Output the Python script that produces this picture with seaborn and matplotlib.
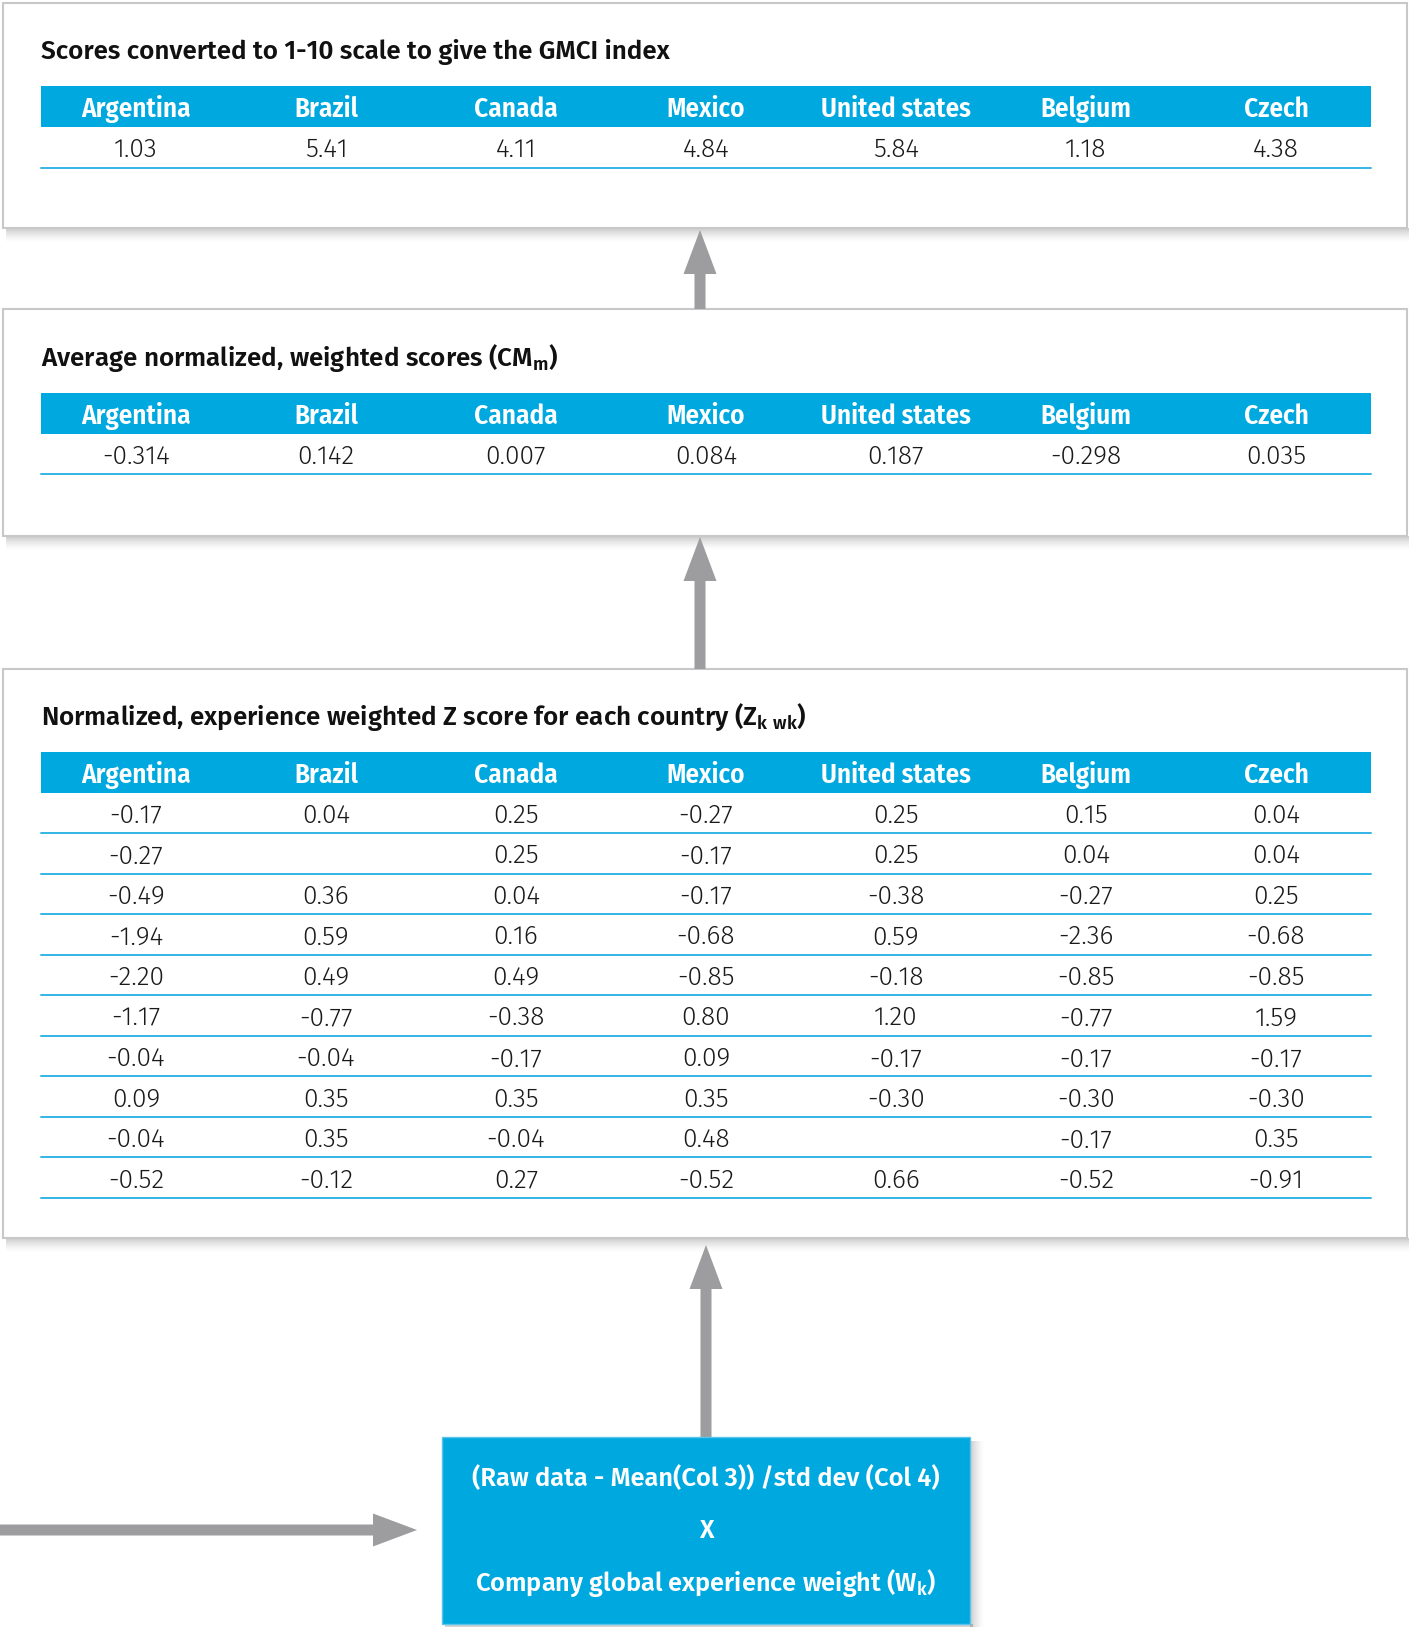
import numpy as np
import matplotlib
matplotlib.use("Agg")
import matplotlib.pyplot as plt
from matplotlib.colors import ListedColormap
from matplotlib.patches import Rectangle, FancyArrow
import seaborn as sns

sns.set_style("white")
COND_FONT = ["Fira Sans Condensed", "DejaVu Sans"]
TEXT_FONT = ["Fira Sans", "DejaVu Sans"]
plt.rcParams['font.family'] = TEXT_FONT

countries = ["Argentina", "Brazil", "Canada", "Mexico", "United states", "Belgium", "Czech"]

gmci_index = [1.03, 5.41, 4.11, 4.84, 5.84, 1.18, 4.38]
avg_scores = [-0.314, 0.142, 0.007, 0.084, 0.187, -0.298, 0.035]

# z scores, one list per country (nan = empty cell)
z_argentina = [-0.17, -0.27, -0.49, -1.94, -2.20, -1.17, -0.04, 0.09, -0.04, -0.52]
z_brazil = [0.04, np.nan, 0.36, 0.59, 0.49, -0.77, -0.04, 0.35, 0.35, -0.12]
z_canada = [0.25, 0.25, 0.04, 0.16, 0.49, -0.38, -0.17, 0.35, -0.04, 0.27]
z_mexico = [-0.27, -0.17, -0.17, -0.68, -0.85, 0.80, 0.09, 0.35, 0.48, -0.52]
z_us = [0.25, 0.25, -0.38, 0.59, -0.18, 1.20, -0.17, -0.30, np.nan, 0.66]
z_belgium = [0.15, 0.04, -0.27, -2.36, -0.85, -0.77, -0.17, -0.30, -0.17, -0.52]
z_czech = [0.04, 0.04, 0.25, -0.68, -0.85, 1.59, -0.17, -0.30, 0.35, -0.91]

titles = ["Scores converted to 1-10 scale to give the GMCI index",
          "Average normalized, weighted scores (CM$_\\mathregular{m}$)",
          "Normalized, experience weighted Z score for each country (Z$_\\mathregular{k\\ wk}$)"]
formula = ["(Raw data - Mean(Col 3)) /std dev (Col 4)", "X",
           "Company global experience weight (W$_\\mathregular{k}$)"]

BLUE = "#00a8e0"
LINE = "#33b6e6"
GRAY = "#9d9d9f"
W, H = 1409, 1627

fig = plt.figure(figsize=(W / 100, H / 100), dpi=100)
bg = fig.add_axes([0, 0, 1, 1])
bg.set_xlim(0, W)
bg.set_ylim(H, 0)
bg.axis("off")


def px_axes(x0, y0, x1, y1):
    return fig.add_axes([x0 / W, 1 - y1 / H, (x1 - x0) / W, (y1 - y0) / H])


def shadow(x0, y0, x1, y1, right=False):
    n = 14
    for i in range(n):
        a = 0.32 * (1 - i / n) ** 1.5
        bg.add_patch(Rectangle((x0 + 3, y1 + i), x1 - x0, 1, color="#606060", alpha=a, lw=0))
        if right:
            bg.add_patch(Rectangle((x1 + i, y0 + 4), 1, y1 - y0, color="#606060", alpha=a, lw=0))


def panel(y0, y1):
    shadow(3, y0, 1407, y1)
    bg.add_patch(Rectangle((3, y0), 1404, y1 - y0, facecolor="white", edgecolor="#c8c8c8", lw=1.5))


def table(y0, y1, rows, fmt):
    ax = px_axes(41, y0, 1371, y1)
    n = len(rows)
    mat = np.zeros((n + 1, len(countries)))
    mat[0, :] = 1
    annot = [countries] + [["" if np.isnan(v) else format(v, fmt) for v in r] for r in rows]
    sns.heatmap(mat, cmap=ListedColormap(["white", BLUE]), vmin=0, vmax=1, annot=np.array(annot),
                fmt="", cbar=False, ax=ax, xticklabels=False, yticklabels=False,
                annot_kws={"fontsize": 16, "va": "center_baseline"})
    for t in ax.texts:
        if t.get_position()[1] < 1:
            t.set_family(COND_FONT)
            t.set_fontweight(600)
            t.set_fontsize(19.5)
            t.set_color("white")
        else:
            t.set_family(TEXT_FONT)
            t.set_fontweight(300)
            t.set_fontsize(19)
            t.set_color("#1a1a1a")
    for i in range(2, n + 2):
        ax.axhline(i, color=LINE, lw=1.4, clip_on=False)
    ax.axis("off")


panel(3, 228)
panel(309, 536)
panel(669, 1238)

for txt, yy in zip(titles, [59, 366, 725]):
    bg.text(41, yy, txt, fontsize=18.7, fontweight=600, va="baseline", color="#111111")

table(86, 168, [gmci_index], ".2f")
table(393, 474, [avg_scores], ".3f")
z_cols = [z_argentina, z_brazil, z_canada, z_mexico, z_us, z_belgium, z_czech]
table(752, 1198, [list(r) for r in zip(*z_cols)], ".2f")

# arrows
arrow_kw = dict(width=11, head_width=33, head_length=44, length_includes_head=True, color=GRAY, lw=0)
bg.add_patch(FancyArrow(700, 309, 0, -79, **arrow_kw))
bg.add_patch(FancyArrow(700, 669, 0, -132, **arrow_kw))
bg.add_patch(FancyArrow(706, 1437, 0, -192, **arrow_kw))
bg.add_patch(FancyArrow(0, 1530, 417, 0, **arrow_kw))

# formula box
shadow(442, 1437, 970, 1624, right=True)
bg.add_patch(Rectangle((442, 1437), 528, 187, facecolor=BLUE, edgecolor="#5cc4ea", lw=1))
for txt, yy in zip(formula, [1486, 1538, 1591]):
    bg.text(706, yy, txt, fontsize=18.3, fontweight=600, color="white", ha="center", va="baseline")

fig.savefig("out.png", dpi=100, facecolor="white")
